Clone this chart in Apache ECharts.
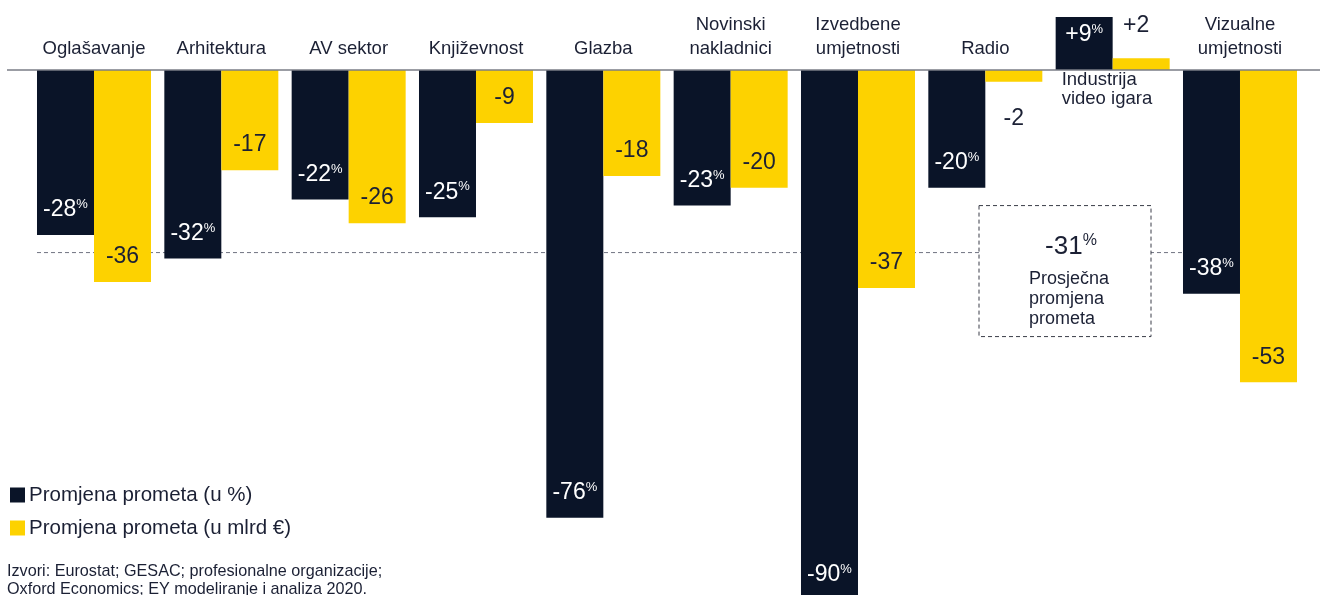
<!DOCTYPE html>
<html>
<head>
<meta charset="utf-8">
<script src="https://cdn.jsdelivr.net/npm/echarts@6/dist/echarts.min.js"></script>
<style>
  html, body { margin: 0; padding: 0; background: #ffffff; }
  #chart { width: 1320px; height: 595px; }
</style>
</head>
<body>
<div id="chart"></div>
<script>
// Sectors of the cultural and creative industries
const categories = [
  'Oglašavanje', 'Arhitektura', 'AV sektor', 'Književnost', 'Glazba',
  'Novinski\nnakladnici', 'Izvedbene\numjetnosti', 'Radio',
  'Industrija\nvideo igara', 'Vizualne\numjetnosti'
];
// Change in turnover, percent
const changePct = [-28, -32, -22, -25, -76, -23, -90, -20, 9, -38];
// Change in turnover, billion EUR
const changeBn = [-36, -17, -26, -9, -18, -20, -37, -2, 2, -53];
// Average change in turnover, percent
const averagePct = -31;
const seriesNames = ['Promjena prometa (u %)', 'Promjena prometa (u mlrd €)'];
const averageLabel = ['Prosječna', 'promjena', 'prometa'];
const sourceLines = [
  'Izvori: Eurostat; GESAC; profesionalne organizacije;',
  'Oxford Economics; EY modeliranje i analiza 2020.'
];

const FONT = '"Liberation Sans", Arial, Helvetica, sans-serif';
const NAVY = '#0a1428';
const YELLOW = '#fdd200';
const TEXT = '#1b2034';
const BAR_W = 57;

// vertical layout: zero line 70px from the top, 5.89px per unit, running to the bottom edge
const ZERO_Y = 70;
const UNIT_PX = 5.89;
const CHART_H = 595;
const yMin = -(CHART_H - ZERO_Y) / UNIT_PX;

const signed = v => (v > 0 ? '+' + v : String(v));

const chart = echarts.init(document.getElementById('chart'), null, { renderer: 'canvas' });

const pctData = changePct.map(v => ({
  value: v,
  label: v > 0 ? { position: 'insideTop', distance: 6 } : { position: 'insideBottom', distance: 13 }
}));

const bnData = changeBn.map(v => {
  const small = Math.abs(v) < 5;
  let label;
  if (small) {
    label = v > 0 ? { position: 'top', distance: 21, offset: [-5, 0] } : { position: 'bottom', distance: 25 };
  } else {
    label = { position: 'insideBottom', distance: 13 };
  }
  return { value: v, label };
});

// sectors that grew get their name written under the axis line
const belowAxisNames = categories
  .map((c, i) => ({ c, i }))
  .filter(d => changePct[d.i] > 0)
  .map(d => ({ name: d.c, coord: [d.c, 0] }));

const option = {
  animation: false,
  textStyle: { fontFamily: FONT },
  grid: { left: 30.33, width: 1273.33, top: ZERO_Y, bottom: 0, containLabel: false },
  legend: {
    orient: 'vertical',
    left: 10,
    top: 484,
    padding: 0,
    icon: 'rect',
    itemWidth: 15,
    itemHeight: 15,
    itemGap: 11,
    selectedMode: false,
    textStyle: { fontFamily: FONT, fontSize: 20.5, lineHeight: 22, color: TEXT, padding: [0, 0, 0, -1] },
    data: seriesNames
  },
  xAxis: {
    type: 'category',
    position: 'top',
    data: categories,
    axisLine: { show: true, onZero: false, lineStyle: { opacity: 0 } },
    axisTick: { show: false },
    splitLine: { show: false },
    axisLabel: {
      margin: 9,
      interval: 0,
      fontSize: 18.5,
      lineHeight: 24,
      color: TEXT,
      fontFamily: FONT,
      formatter: (val, idx) => (changePct[idx] > 0 ? '' : val)
    }
  },
  yAxis: {
    type: 'value',
    min: yMin,
    max: 0,
    show: false,
    splitLine: { show: false }
  },
  series: [
    {
      name: seriesNames[0],
      type: 'bar',
      data: pctData,
      barWidth: BAR_W,
      barGap: '0%',
      clip: false,
      z: 2,
      itemStyle: { color: NAVY },
      label: {
        show: true,
        formatter: p => '{v|' + signed(p.value) + '}{p|%}',
        rich: {
          v: { fontSize: 23, lineHeight: 24, color: '#ffffff', fontFamily: FONT },
          p: { fontSize: 13, lineHeight: 14, verticalAlign: 'top', color: '#ffffff', fontFamily: FONT }
        }
      },
      markPoint: {
        symbol: 'rect',
        symbolSize: 0,
        silent: true,
        data: belowAxisNames,
        label: {
          show: true,
          formatter: p => p.name,
          position: [-22.5, 0],
          align: 'left',
          verticalAlign: 'top',
          fontSize: 18.5,
          lineHeight: 19.5,
          color: TEXT,
          fontFamily: FONT
        }
      }
    },
    {
      name: seriesNames[1],
      type: 'bar',
      data: bnData,
      barWidth: BAR_W,
      barGap: '0%',
      clip: false,
      z: 2,
      itemStyle: { color: YELLOW },
      label: {
        show: true,
        formatter: p => signed(p.value),
        fontSize: 23,
        lineHeight: 24,
        color: TEXT,
        fontFamily: FONT
      }
    }
  ]
};

chart.setOption(option);

// reference lines and annotations placed through the chart's own scales
const y0 = chart.convertToPixel({ yAxisIndex: 0 }, 0);
const yAvg = chart.convertToPixel({ yAxisIndex: 0 }, averagePct);
const xFirst = chart.convertToPixel({ xAxisIndex: 0 }, 0) - BAR_W;
const xLast = chart.convertToPixel({ xAxisIndex: 0 }, categories.length - 1) + BAR_W;

const boxX = 979, boxW = 172;
const boxTop = yAvg - 47, boxH = 131;

chart.setOption({
  graphic: [
    {
      type: 'line',
      z: 1,
      silent: true,
      shape: { x1: xFirst, y1: yAvg, x2: xLast, y2: yAvg },
      style: { stroke: '#6f7280', lineWidth: 1, lineDash: [4, 3] }
    },
    {
      type: 'line',
      z: 10,
      silent: true,
      shape: { x1: 7, y1: y0, x2: 1320, y2: y0 },
      style: { stroke: '#7a7c86', lineWidth: 1.4 }
    },
    {
      type: 'rect',
      z: 10,
      silent: true,
      shape: { x: boxX, y: boxTop, width: boxW, height: boxH },
      style: { fill: '#ffffff', stroke: '#3a3d48', lineWidth: 1, lineDash: [4, 3] }
    },
    {
      type: 'text',
      z: 11,
      silent: true,
      style: {
        x: boxX + 92,
        y: yAvg - 6,
        text: '{v|' + averagePct + '}{p|%}',
        textAlign: 'center',
        textVerticalAlign: 'middle',
        rich: {
          v: { fontSize: 26, lineHeight: 28, fill: TEXT, fontFamily: FONT },
          p: { fontSize: 16, lineHeight: 16, verticalAlign: 'top', fill: TEXT, fontFamily: FONT }
        }
      }
    },
    {
      type: 'text',
      z: 11,
      silent: true,
      style: {
        x: boxX + 50,
        y: yAvg + 16,
        text: averageLabel.join('\n'),
        textAlign: 'left',
        textVerticalAlign: 'top',
        fontSize: 18,
        lineHeight: 20,
        fontFamily: FONT,
        fill: TEXT
      }
    },
    {
      type: 'text',
      z: 11,
      silent: true,
      style: {
        x: 7,
        y: 563,
        text: sourceLines.join('\n'),
        textAlign: 'left',
        textVerticalAlign: 'top',
        fontSize: 16.2,
        lineHeight: 18,
        fontFamily: FONT,
        fill: TEXT
      }
    }
  ]
});
</script>
</body>
</html>
